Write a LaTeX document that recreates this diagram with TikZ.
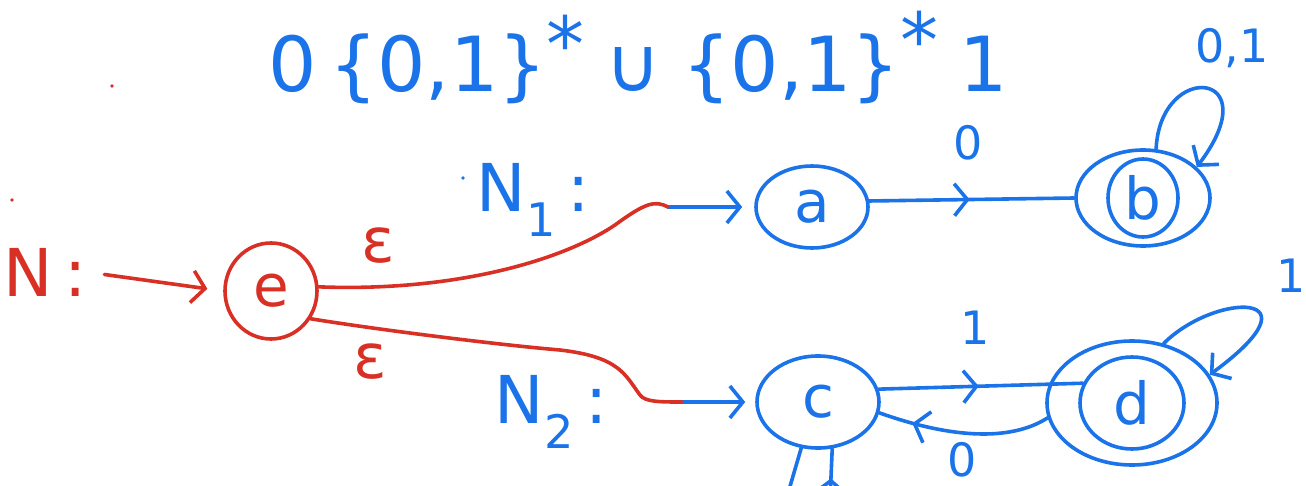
\documentclass[tikz,border=0pt]{standalone}
\usepackage{fontspec}
\setmainfont{DejaVu Sans}
\usetikzlibrary{shapes.geometric,arrows.meta,decorations.markings}
\definecolor{inkblue}{RGB}{26,115,232}
\definecolor{inkred}{RGB}{217,48,37}
\begin{document}
\begin{tikzpicture}[x=1pt,y=-1pt,
  ink/.style={line width=3.6pt,line cap=round,line join=round},
  tipend/.style={-{Straight Barb[length=13pt,width=32pt]}},
  state/.style={ellipse,draw,ink,inner sep=0pt},
  midarrow/.style={postaction={decorate},decoration={markings,mark=at position #1 with {\arrow{Straight Barb[length=13pt,width=32pt]}}}},
  lbl/.style={font=\fontsize{46}{50}\selectfont,inner sep=0pt},
  epsl/.style={font=\fontsize{62}{66}\selectfont,inner sep=0pt},
  letter/.style={font=\fontsize{58}{62}\selectfont},
  big/.style={font=\fontsize{66}{72}\selectfont,inner sep=0pt}
]
\useasboundingbox (0,0) rectangle (1306,486);
\clip (0,0) rectangle (1306,486);

% title formula
\node[big,text=inkblue,font=\fontsize{76}{82}\selectfont] (top) at (638,57)
  {0\,\{0,1\}\raisebox{20pt}{*}\;∪\;\{0,1\}\raisebox{24pt}{*}\;1};
\node[lbl,text=inkblue] (b01) at (1232,48) {0,1};

% blue automata
\begin{scope}[inkblue,every node/.append style={text=inkblue}]
\node[state,letter,minimum width=112pt,minimum height=82pt] (a) at (812,207) {a};
\node[state,minimum width=134pt,minimum height=96pt] (b) at (1143,198) {};
\node[state,letter,minimum width=70pt,minimum height=78pt] (bi) at (b) {b};
\node[state,letter,minimum width=122pt,minimum height=92pt] (c) at (818,402) {c};
\node[state,minimum width=170pt,minimum height=124pt] (d) at (1132,403) {};
\node[state,letter,minimum width=104pt,minimum height=92pt] (di) at (d) {d};

\node[big] (n1) at (533,200) {N\textsubscript{1}\,:};
\node[big] (n2) at (551,412) {N\textsubscript{2}\,:};

\coordinate (s1) at (668,207);
\coordinate (s2) at (682,402);
\draw[ink,tipend,shorten >=12pt] (s1) -- (a.west);
\draw[ink,tipend,shorten >=10pt] (s2) -- (c.west);

\draw[ink,midarrow=0.49] (a.6) -- (b.west);
\node[lbl] (l0a) at (968,143) {0};
\draw[ink,tipend] (b.75) .. controls (1160,60) and (1270,70) .. (b.30);

\draw[ink,midarrow=0.49] (c.12) -- (di.158);
\node[lbl] (l1c) at (975,328) {1};
\draw[ink,midarrow=0.8] (d.190) .. controls (1010,442) and (950,438) .. (c.-10);
\node[lbl] (l0d) at (962,460) {0};
\draw[ink,tipend] (d.62) .. controls (1215,292) and (1325,290) .. (d.20);
\node[lbl] (l1d) at (1291,276) {1};

\coordinate (cb1) at (786,500);
\coordinate (cb2) at (830,500);
\draw[ink] (c.250) -- (cb1);
\draw[ink,midarrow=0.42] (cb2) -- (c.287);
\fill (463,178) circle (1.8pt);
\end{scope}

% red part
\begin{scope}[inkred,every node/.append style={text=inkred}]
\node[big] (n0) at (45,272) {N\,:};
\node[state,letter,minimum width=92pt,minimum height=96pt] (e) at (271,291) {e};
\draw[ink,tipend,shorten <=18pt,shorten >=16pt] (n0.east) -- (e.west);
\node[epsl] (eps1) at (378,246) {ε};
\node[epsl] (eps2) at (370,362) {ε};
\draw[ink] (e.5) .. controls (450,292) and (560,262) .. (615,225) .. controls (645,203) and (655,200) .. (s1);
\draw[ink] (e.-35) .. controls (380,330) and (500,345) .. (560,350) .. controls (620,357) and (625,375) .. (640,395) .. controls (645,402) and (660,402) .. (s2);
\fill (112,86) circle (1.8pt);
\fill (12,200) circle (1.8pt);
\end{scope}
\end{tikzpicture}
\end{document}
